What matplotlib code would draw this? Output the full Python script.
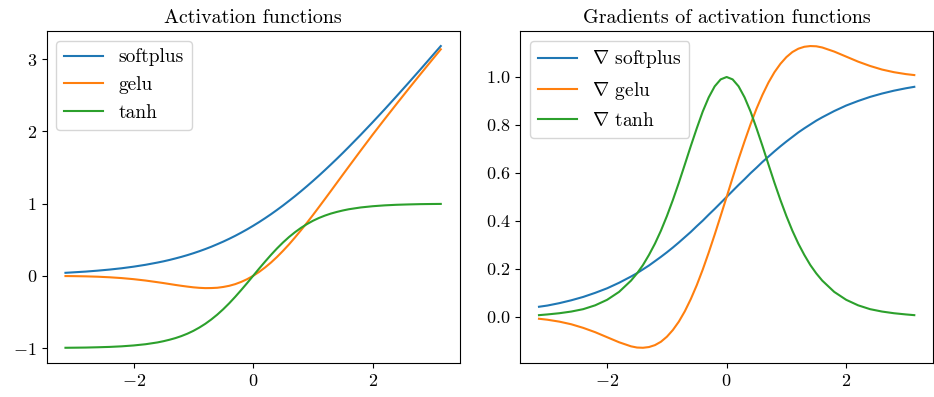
import numpy as np
import matplotlib
matplotlib.use('Agg')
import matplotlib.pyplot as plt

plt.rcParams['font.family'] = 'serif'
plt.rcParams['font.serif'] = ['cmr10']
plt.rcParams['mathtext.fontset'] = 'cm'
plt.rcParams['axes.formatter.use_mathtext'] = True
plt.rcParams['font.size'] = 12
plt.rcParams['xtick.labelsize'] = 13
plt.rcParams['ytick.labelsize'] = 13
plt.rcParams['legend.fontsize'] = 14

# sample points on [-pi, pi], denser around the origin
x = [-3.14, -3.0, -2.8, -2.6, -2.4, -2.2, -2.0, -1.8, -1.6, -1.5, -1.4, -1.3,
     -1.2, -1.1, -1.0, -0.9, -0.8, -0.7, -0.6, -0.5, -0.4, -0.3, -0.2, -0.1,
     0.0, 0.1, 0.2, 0.3, 0.4, 0.5, 0.6, 0.7, 0.8, 0.9, 1.0, 1.1, 1.2, 1.3,
     1.4, 1.5, 1.6, 1.8, 2.0, 2.2, 2.4, 2.6, 2.8, 3.0, 3.14]

softplus = [0.042, 0.049, 0.059, 0.072, 0.087, 0.105, 0.127, 0.153, 0.184, 0.201,
            0.220, 0.241, 0.263, 0.287, 0.313, 0.341, 0.371, 0.403, 0.438, 0.474,
            0.513, 0.554, 0.598, 0.644, 0.693, 0.744, 0.798, 0.854, 0.913, 0.974,
            1.038, 1.103, 1.171, 1.241, 1.313, 1.387, 1.463, 1.541, 1.620, 1.701,
            1.784, 1.953, 2.127, 2.305, 2.487, 2.672, 2.859, 3.049, 3.182]
gelu = [-0.003, -0.004, -0.007, -0.012, -0.020, -0.031, -0.046, -0.065, -0.088,
        -0.100, -0.113, -0.126, -0.138, -0.149, -0.159, -0.166, -0.170, -0.169,
        -0.165, -0.154, -0.138, -0.115, -0.084, -0.046, 0.0, 0.054, 0.116, 0.185,
        0.262, 0.346, 0.435, 0.531, 0.631, 0.734, 0.841, 0.951, 1.062, 1.174,
        1.287, 1.400, 1.512, 1.735, 1.955, 2.169, 2.380, 2.588, 2.793, 2.996, 3.137]
tanh = [-0.996, -0.995, -0.993, -0.989, -0.984, -0.976, -0.964, -0.947, -0.922,
        -0.905, -0.885, -0.862, -0.834, -0.801, -0.762, -0.716, -0.664, -0.604,
        -0.537, -0.462, -0.380, -0.291, -0.197, -0.100, 0.0, 0.100, 0.197, 0.291,
        0.380, 0.462, 0.537, 0.604, 0.664, 0.716, 0.762, 0.801, 0.834, 0.862,
        0.885, 0.905, 0.922, 0.947, 0.964, 0.976, 0.984, 0.989, 0.993, 0.995, 0.996]

d_softplus = [0.042, 0.047, 0.057, 0.069, 0.083, 0.100, 0.119, 0.142, 0.168, 0.182,
              0.198, 0.214, 0.232, 0.250, 0.269, 0.289, 0.310, 0.332, 0.354, 0.378,
              0.401, 0.426, 0.450, 0.475, 0.500, 0.525, 0.550, 0.574, 0.599, 0.622,
              0.646, 0.668, 0.690, 0.711, 0.731, 0.750, 0.769, 0.786, 0.802, 0.818,
              0.832, 0.858, 0.881, 0.900, 0.917, 0.931, 0.943, 0.953, 0.959]
d_gelu = [-0.008, -0.012, -0.020, -0.031, -0.046, -0.064, -0.085, -0.106, -0.123,
          -0.128, -0.129, -0.126, -0.118, -0.104, -0.083, -0.055, -0.020, 0.023,
          0.074, 0.132, 0.197, 0.268, 0.343, 0.421, 0.500, 0.580, 0.658, 0.732,
          0.803, 0.868, 0.926, 0.977, 1.020, 1.055, 1.083, 1.104, 1.118, 1.126,
          1.129, 1.128, 1.123, 1.106, 1.085, 1.064, 1.046, 1.031, 1.020, 1.012, 1.008]
d_tanh = [0.007, 0.010, 0.015, 0.022, 0.032, 0.048, 0.071, 0.104, 0.151, 0.181,
          0.216, 0.258, 0.305, 0.359, 0.420, 0.487, 0.559, 0.635, 0.712, 0.786,
          0.856, 0.915, 0.961, 0.990, 1.0, 0.990, 0.961, 0.915, 0.856, 0.786,
          0.712, 0.635, 0.559, 0.487, 0.420, 0.359, 0.305, 0.258, 0.216, 0.181,
          0.151, 0.104, 0.071, 0.048, 0.032, 0.022, 0.015, 0.010, 0.007]

fig = plt.figure(figsize=(9.34, 3.97), dpi=100)
plt.subplots_adjust(left=0.05, right=0.999, bottom=0.086, top=0.922, wspace=0.147)

plt.subplot(1, 2, 1)
plt.title('Activation functions')
plt.plot(x, softplus, label='softplus')
plt.plot(x, gelu, label='gelu')
plt.plot(x, tanh, label='tanh')
plt.xticks([-2, 0, 2])
plt.legend(loc='upper left')

plt.subplot(1, 2, 2)
plt.title('Gradients of activation functions')
plt.plot(x, d_softplus, label=r'$\nabla$ softplus')
plt.plot(x, d_gelu, label=r'$\nabla$ gelu')
plt.plot(x, d_tanh, label=r'$\nabla$ tanh')
plt.xticks([-2, 0, 2])
plt.legend(loc='upper left')

plt.savefig('out.png')
